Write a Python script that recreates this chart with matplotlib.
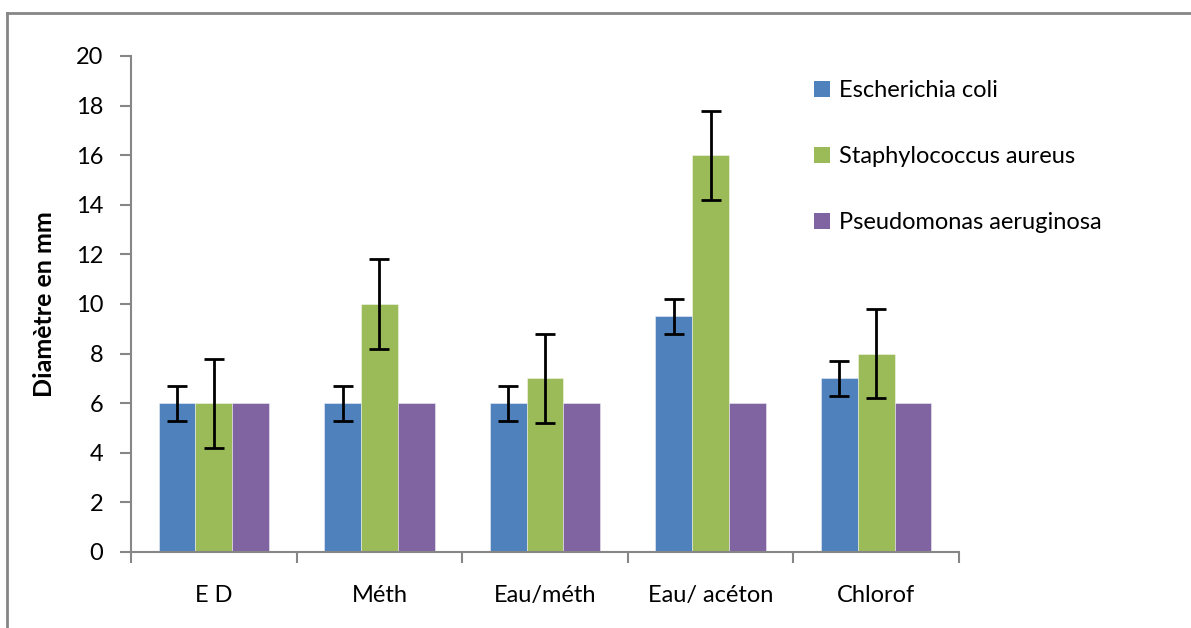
import matplotlib
matplotlib.use("Agg")
import matplotlib.pyplot as plt
import numpy as np
from matplotlib.lines import Line2D
from matplotlib.patches import Patch

categories = ["E D", "Méth", "Eau/méth", "Eau/ acéton", "Chlorof"]
series_names = ["Escherichia coli", "Staphylococcus aureus", "Pseudomonas aeruginosa"]
ecoli = [6, 6, 6, 9.5, 7]
saureus = [6, 10, 7, 16, 8]
paerug = [6, 6, 6, 6, 6]
ecoli_err = [0.7, 0.7, 0.7, 0.7, 0.7]
saureus_err = [1.8, 1.8, 1.8, 1.8, 1.8]
yticks = [0, 2, 4, 6, 8, 10, 12, 14, 16, 18, 20]

colors = ["#4F81BD", "#9BBB59", "#8064A2"]

plt.rcParams['font.family'] = ['Lato', 'DejaVu Sans']

fig = plt.figure(figsize=(11.91, 6.28), dpi=100)
ax = fig.add_axes([131/1191, 1-552/628, (959-131)/1191, (552-56)/628])

x = np.arange(len(categories))
w = 1/4.5
vals = [ecoli, saureus, paerug]
errs = [ecoli_err, saureus_err, None]
for i, (v, c, e) in enumerate(zip(vals, colors, errs)):
    pos = x + (i-1)*w
    ax.bar(pos, v, width=w, color=c, edgecolor=(1, 1, 1, 0.5), linewidth=0.6, zorder=2)
    if e is not None:
        ax.errorbar(pos, v, yerr=e, fmt='none', ecolor='black', elinewidth=2,
                    capsize=7, capthick=2, zorder=3)

ax.set_xlim(-0.5, len(categories)-0.5)
ax.set_ylim(0, 20)
ax.set_yticks(yticks)
ax.set_yticklabels([str(t) for t in yticks], fontsize=17)
ax.set_xticks(np.arange(len(categories)+1)-0.5, minor=False)
ax.set_xticklabels([])
ax.set_xticks(x, minor=True)
ax.set_xticklabels(categories, minor=True, fontsize=17)
ax.tick_params(axis='x', which='minor', length=0, pad=24)
ax.tick_params(axis='x', which='major', length=8, color='#868686', width=1.5, direction='out')
ax.tick_params(axis='y', length=8, color='#868686', width=1.5, pad=12)
for s in ['top', 'right']:
    ax.spines[s].set_visible(False)
for s in ['left', 'bottom']:
    ax.spines[s].set_color('#868686')
    ax.spines[s].set_linewidth(1.5)

ax.set_ylabel("Diamètre en mm", fontsize=18, fontweight='bold', labelpad=14)

handles = [Patch(facecolor=c) for c in colors]
fig.legend(handles, series_names, loc='upper left', bbox_to_anchor=(793/1191, 1-59/628),
           frameon=False, fontsize=17, handlelength=0.65, handleheight=0.65,
           handletextpad=0.4, labelspacing=1.9)

# outer frame (left and top edges)
fig.add_artist(Line2D([7/1191, 7/1191], [0, 1-13/628], transform=fig.transFigure,
                      color='#868686', linewidth=2))
fig.add_artist(Line2D([7/1191, 1], [1-13/628, 1-13/628], transform=fig.transFigure,
                      color='#868686', linewidth=2))

fig.savefig("out.png", dpi=100)
